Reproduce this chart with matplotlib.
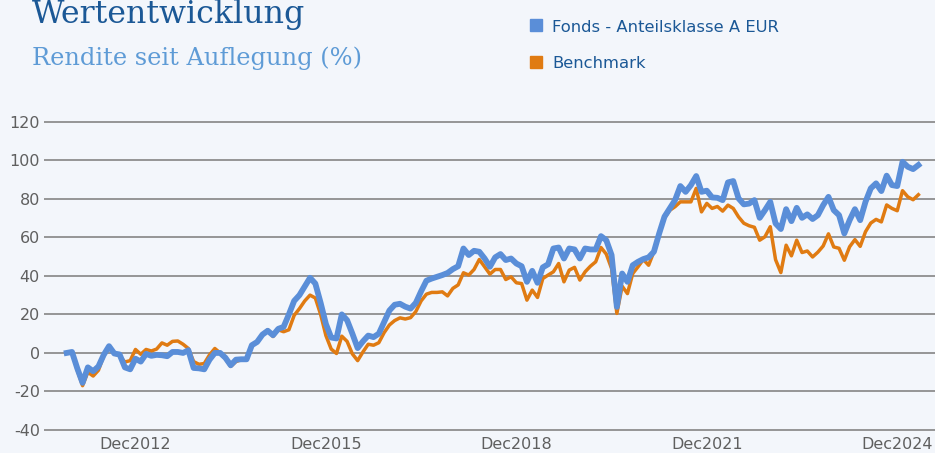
import matplotlib
matplotlib.use('Agg')
import matplotlib.pyplot as plt
from matplotlib.lines import Line2D
import numpy as np

# ---------------- data ----------------
series_names = ['Fonds - Anteilsklasse A EUR', 'Benchmark']

fund = [0, 0.5, -8, -15.5, -7.5, -9.5, -7, -1, 3.5, -0.3,
        -0.8, -7.5, -8.5, -3, -4.5, -0.5, -1.5, -1, -1.2, -1.7,
        0.5, 0.5, 0, 1.4, -7.8, -8, -8.5, -3.5, 0, 0,
        -2.5, -6.4, -3.5, -3.3, -3.3, 4, 5.7, 9.5, 11.5, 9.2,
        12.5, 13.5, 20, 27, 30, 34.5, 39, 36, 26, 15,
        8, 7.5, 20, 17, 10, 2.5, 6, 9, 8.2, 10,
        16, 22, 25, 25.5, 24, 23, 26, 32, 37.5, 38.6,
        39.5, 40.4, 41.5, 43.5, 45, 54.2, 50.8, 53, 52.5, 49,
        44.7, 49.6, 51.3, 48.2, 49, 46.4, 45, 36.9, 42.6, 36.4,
        44.4, 46, 54.2, 54.7, 49, 54.2, 53.7, 49, 54.2, 53.7,
        53.7, 60.6, 58.5, 50.8, 23.9, 41.2, 36.9, 45.5, 47.3, 48.7,
        49.6, 52.5, 62, 70.7, 75, 79.3, 86.6, 83.6, 87.1, 91.8,
        83.6, 84.2, 80.7, 80.5, 79.3, 88.5, 89.2, 80.2, 77.1, 77.5,
        79.3, 70.1, 74.1, 78.4, 67.2, 64.3, 74.6, 68.4, 75.3, 70.1,
        71.9, 69.5, 71.5, 76.7, 81, 74.1, 71.5, 62, 68.9, 74.6,
        68.9, 78.4, 85.4, 88, 84, 92, 87.1, 86.6, 99.2, 96.6,
        95.4, 97.5]

bench = [0, 0.5, -9, -17, -10, -12, -9, -1.5, 3, -0.5,
         -1.5, -4.7, -4, 1.8, -0.7, 1.8, 1, 2, 5.2, 4,
         6, 6.2, 4.5, 2.3, -4.5, -5.9, -5.5, -1, 2.3, 0,
         -3, -7, -4.5, -3.5, -3, 4, 5.5, 9.5, 12, 8.5,
         12, 11, 12, 19.5, 23, 27, 30, 28.5, 20, 9,
         2, -0.3, 8.7, 6, -0.5, -4, 0.5, 4.5, 4, 5.3,
         10.5, 14.5, 16.8, 18.2, 17.6, 18.3, 21.5, 27, 30.5, 31.4,
         31.4, 31.7, 29.6, 33.5, 35.3, 41.6, 40.4, 43.3, 48.5, 44.7,
         40.9, 43.3, 43.3, 38.1, 39.5, 36.4, 36, 27.4, 32.6, 28.8,
         38.6, 40.4, 42.1, 46.4, 36.9, 43, 44.4, 37.8, 42.1, 45,
         47.3, 54.7, 51.3, 43.8, 20.5, 34.6, 30.8, 41.2, 44.7, 48.5,
         45.5, 52.5, 62, 70, 74, 75.9, 78.4, 78.4, 78.4, 85.4,
         73.2, 77.6, 75, 76, 73.6, 76.7, 75, 70.6, 67.3, 66,
         65.2, 58.5, 60.3, 65.5, 48.4, 41.7, 55.9, 50.4, 58.5, 52.1,
         52.9, 49.8, 52.3, 55.5, 61.8, 55, 54.3, 48.1, 55.1, 58.8,
         55.3, 62.9, 67.4, 69.3, 68, 76.8, 75, 73.8, 84.2, 81,
         79.5, 82.1]

tick_labels = ['Dec2012', 'Dec2015', 'Dec2018', 'Dec2021', 'Dec2024']
tick_index = [13, 49, 85, 121, 157]
y_ticks = [-40, -20, 0, 20, 40, 60, 80, 100, 120]

title = 'Wertentwicklung'
subtitle = 'Rendite seit Auflegung (%)'

# ---------------- style ----------------
BG = '#F3F6FB'
BLUE = '#5A8ED8'
ORANGE = '#E07B12'
DARK = '#1B5896'
LIGHT = '#5E9BD6'
GRID = '#858585'
TICK = '#5F5F5F'

W, H = 935, 453
fig = plt.figure(figsize=(W / 100, H / 100), dpi=100, facecolor=BG)

x = np.arange(len(fund))
px_per = 5.29
x0 = 66.7
ax_left, ax_right = 44, 935
ax_top, ax_bot = 117.85, 433.85
ax = fig.add_axes([ax_left / W, 1 - ax_bot / H, (ax_right - ax_left) / W, (ax_bot - ax_top) / H])
ax.set_facecolor(BG)
ax.set_xlim((ax_left - x0) / px_per, (ax_right - x0) / px_per)
ax.set_ylim(-42, 122)

ax.plot(x, bench, color=ORANGE, lw=2.5, solid_joinstyle='round', zorder=3)
ax.plot(x, fund, color=BLUE, lw=4.2, solid_joinstyle='round', zorder=4)

ax.set_yticks(y_ticks)
ax.set_yticklabels([str(v) for v in y_ticks])
ax.set_xticks(tick_index)
ax.set_xticklabels(tick_labels)
ax.grid(axis='y', color=GRID, lw=1.2)
ax.grid(axis='x', visible=False)
ax.set_axisbelow(True)
for s in ax.spines.values():
    s.set_visible(False)
ax.tick_params(axis='both', length=0, labelsize=11.5, colors=TICK)
ax.tick_params(axis='y', pad=3)
ax.tick_params(axis='x', pad=2)

# titles
fig.text(32 / W, 1 - 23.3 / H, title, family='DejaVu Serif', fontsize=22.8,
         color=DARK, va='baseline', ha='left')
fig.text(32 / W, 1 - 65 / H, subtitle, family='DejaVu Serif', fontsize=17.4,
         color=LIGHT, va='baseline', ha='left')

# legend
for i, (name, col) in enumerate(zip(series_names, [BLUE, ORANGE])):
    yc = [25, 62][i]
    fig.add_artist(Line2D([536 / W], [1 - yc / H], marker='s', markersize=8,
                          color=col, transform=fig.transFigure))
    fig.text(552 / W, 1 - (yc + 6.5) / H, name, fontsize=11.8, color=DARK,
             va='baseline', ha='left')

fig.savefig('out.png', dpi=100, facecolor=BG)
